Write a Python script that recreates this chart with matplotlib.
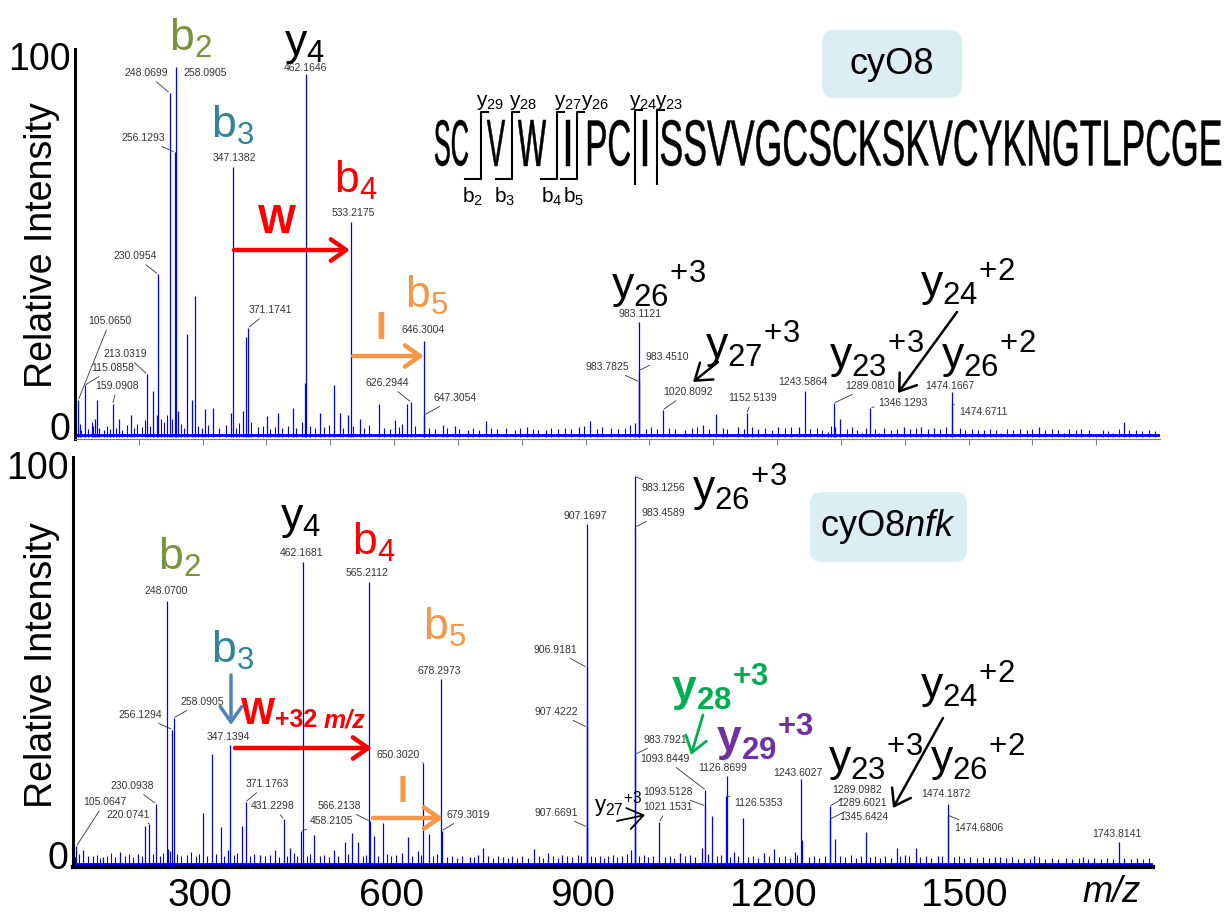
import matplotlib
matplotlib.use('Agg')
import matplotlib.pyplot as plt
from matplotlib.textpath import TextPath
from matplotlib.patches import PathPatch, FancyBboxPatch, FancyArrowPatch
from matplotlib.font_manager import FontProperties
from matplotlib.transforms import Affine2D, ScaledTranslation
from matplotlib.lines import Line2D

plt.rcParams['font.family'] = ['Liberation Sans', 'DejaVu Sans']
plt.rcParams['mathtext.fontset'] = 'custom'
plt.rcParams['mathtext.rm'] = 'Liberation Sans'
plt.rcParams['mathtext.it'] = 'Liberation Sans:italic'
plt.rcParams['mathtext.bf'] = 'Liberation Sans:bold'

# ---------------- data: cyO8 (top) ----------------
top_mz = [105.0650, 115.0858, 159.0908, 213.0319, 230.0954, 248.0699, 256.1293,
          258.0905, 347.1382, 371.1741, 462.1646, 533.2175, 626.2944, 646.3004,
          647.3054, 983.1121, 983.4510, 983.7825, 1020.8092, 1152.5139, 1243.5864,
          1289.0810, 1346.1293, 1474.1667, 1474.6711]
top_int = [10, 14, 9, 17, 44, 93, 77, 100, 73, 29.5, 98, 58, 9.5, 26, 6, 31, 18, 15,
           7.3, 6.5, 12.4, 9.2, 8, 12.2, 9]

top_minor_mz = [131, 134.5, 169, 188, 222, 228.5, 261.5, 275.5, 283, 288, 304, 316,
                344.5, 363, 367.5, 401, 418, 442, 460.5, 484, 506, 515, 528, 547,
                576.5, 601.5, 620, 677, 695.6, 716, 744, 808, 838, 890, 907, 978,
                1056, 1084, 1105, 1139, 1202, 1235, 1280, 1291, 1299, 1333.5, 1359,
                1399, 1426, 1525, 1551, 1611, 1649, 1700, 1727, 1744]
top_minor_int = [5, 10, 5, 6, 12.4, 6, 7, 28, 10, 38, 7.5, 8, 6.5, 7, 27, 5.7, 6.5, 8,
                 14.6, 6.5, 14, 6.5, 6, 5, 9, 4.6, 9, 3.2, 3, 2, 4.3, 2.7, 2, 2.7, 4.3,
                 3.8, 2, 3.2, 6.2, 2.7, 2.7, 2.7, 1.3, 2.7, 5, 1, 1, 2.7, 2.7, 2, 1,
                 2.7, 1, 0.8, 1, 4]

top_grass = [(104, 2.5), (108, 3.5), (110, 2), (121, 2.2), (126, 4), (128, 3), (138, 2.5),
             (145, 2), (150, 3), (155, 2.2), (165, 2.6), (174, 2), (181, 3.2), (193, 2.4),
             (197, 3.5), (205, 2.8), (209, 4.5), (217, 3), (235, 5), (240, 4), (244, 6),
             (252, 5), (266, 3.5), (271, 2.6), (293, 3), (299, 2.4), (309, 3.3), (326, 2.5),
             (336, 3.2), (352, 2.4), (357, 3.8), (375, 4), (386, 2.7), (395, 3.1), (406, 2.3),
             (413, 2.8), (425, 2.5), (433, 3), (447, 2.6), (455, 4), (468, 3), (476, 2.4),
             (490, 2.8), (498, 3.4), (520, 2.6), (536, 3), (553, 2.4), (560, 3.2), (584, 2.6),
             (593, 2.2), (608, 2.8), (613, 3.5), (632, 3), (655, 2.5), (664, 2.2), (683, 2.6),
             (702, 2.2), (724, 2.4), (733, 2), (752, 2.6), (761, 2.1), (776, 2.4), (789, 2),
             (798, 2.6), (817, 2.2), (826, 1.8), (846, 2.4), (856, 2.1), (868, 2.6), (877, 2.3),
             (897, 3), (918, 2.2), (926, 2.8), (940, 2.4), (951, 2.1), (962, 2.6), (970, 3.3),
             (995, 2.3), (1003, 2.8), (1012, 2.2), (1031, 2.6), (1040, 2.2), (1066, 2.4),
             (1075, 2.8), (1094, 2.3), (1115, 2.6), (1122, 2.1), (1148, 2.2), (1160, 2.8),
             (1170, 2.1), (1181, 2.5), (1192, 2), (1213, 2.4), (1222, 2.8), (1252, 2.2),
             (1262, 2.6), (1270, 2), (1285, 3), (1310, 2.2), (1318, 2.8), (1326, 2),
             (1340, 2.4), (1353, 2.2), (1368, 2.5), (1378, 2), (1388, 2.3), (1409, 2.1),
             (1417, 2.5), (1436, 2.2), (1446, 2.6), (1455, 2.1), (1464, 2.8), (1486, 2.4),
             (1495, 2), (1505, 2.3), (1515, 2), (1534, 2.2), (1543, 1.9), (1560, 2.3),
             (1570, 2), (1580, 2.2), (1592, 1.9), (1600, 2.3), (1620, 2), (1630, 2.2),
             (1640, 1.8), (1658, 2.1), (1668, 1.9), (1677, 2.2), (1688, 1.8), (1710, 2),
             (1718, 1.7), (1735, 2.1), (1752, 1.8), (1762, 2), (1772, 1.7), (1782, 1.9),
             (1792, 1.6)]

# ---------------- data: cyO8nfk (bottom) ----------------
bot_mz = [105.0647, 220.0741, 230.0938, 248.0700, 256.1294, 258.0905, 347.1394,
          371.1763, 431.2298, 458.2105, 462.1681, 565.2112, 566.2138, 650.3020,
          678.2973, 679.3019, 906.9181, 907.1697, 907.4222, 907.6691, 983.1256,
          983.4589, 983.7921, 1021.1531, 1093.5128, 1093.8449, 1126.5353, 1126.8699,
          1243.6027, 1289.0982, 1289.6021, 1345.6424, 1474.1872, 1474.6806, 1743.8141]
bot_int = [5, 10.8, 16, 68, 35, 38, 31, 16.4, 12, 8.9, 78, 72.8, 11.5, 26.4, 48, 9,
           51, 87.7, 35.6, 10, 100, 87, 28.7, 11.3, 15.4, 19.5, 18, 23, 22.3, 15.3, 12,
           8.7, 16, 13, 6]

bot_minor_mz = [116, 131, 147, 174, 202, 213, 249, 304, 318, 332.5, 343.5, 365.5, 394,
                417, 441, 478.6, 510, 527, 538, 548, 573, 587, 617, 626.5, 642, 659,
                724, 736.5, 744, 775.5, 824, 846, 868, 948, 977, 1053.6, 1088, 1104,
                1138.5, 1152.6, 1185.6, 1201, 1234, 1245.5, 1297, 1394.6, 1407, 1424,
                1459, 1548.6, 1610, 1687]
bot_minor_int = [4, 2.6, 2.3, 3.6, 3, 10.3, 4.4, 13.6, 28.7, 10, 4, 10.3, 2.8, 4, 4.6,
                 8, 4, 6, 8.5, 6.2, 7.7, 11, 3.3, 7.4, 3.8, 8.2, 2.3, 2.8, 4.6, 2.3,
                 4.4, 3.3, 2.8, 2.8, 4.1, 3.3, 4.6, 12.8, 3.6, 12.3, 3.3, 4.4, 3.6, 6.6,
                 7, 4.6, 2.8, 4.6, 2.6, 2.3, 2.6, 2.3]

bot_grass = [(103, 2.2), (109, 3), (124, 2.4), (137, 2.8), (142, 2), (153, 2.6), (160, 3.2),
             (166, 2.2), (181, 2.5), (188, 3), (195, 2.2), (208, 2.6), (226, 3), (236, 2.4),
             (242, 3.4), (253, 3.8), (263, 3), (270, 2.4), (279, 2.8), (286, 3.5), (294, 2.6),
             (298, 3), (310, 2.4), (325, 3), (338, 2.6), (353, 2.8), (358, 3.4), (378, 2.6),
             (385, 3), (402, 2.4), (410, 2.8), (424, 2.2), (436, 2.6), (448, 3.2), (452, 2.4),
             (467, 2.6), (472, 3), (488, 2.4), (495, 2.8), (503, 2.2), (517, 2.6), (532, 3),
             (555, 2.4), (560, 2.8), (580, 2.6), (593, 3), (600, 2.4), (608, 2.8), (632, 2.4),
             (647, 2.8), (666, 2.6), (672, 3), (688, 2.2), (696, 2.6), (704, 2.1), (712, 2.5),
             (730, 2.2), (752, 2.5), (760, 2.1), (768, 2.4), (783, 2), (790, 2.5), (798, 2.1),
             (806, 2.4), (815, 2), (832, 2.6), (838, 2.1), (855, 2.4), (862, 2), (876, 2.6),
             (884, 2.2), (893, 2.8), (899, 2.4), (914, 2.6), (920, 2.2), (928, 2.5), (935, 2),
             (941, 2.6), (955, 2.2), (962, 2.5), (970, 3), (990, 2.4), (997, 2.8), (1004, 2.2),
             (1011, 2.6), (1030, 2.2), (1038, 2.6), (1045, 2.1), (1062, 2.4), (1070, 2.8),
             (1078, 2.2), (1098, 3), (1112, 2.4), (1118, 2.8), (1132, 2.2), (1145, 2.6),
             (1160, 2.2), (1168, 2.6), (1176, 2), (1193, 2.4), (1210, 2.2), (1218, 2.6),
             (1226, 2), (1238, 2.8), (1256, 2.2), (1264, 2.6), (1272, 2), (1281, 2.4),
             (1305, 2.6), (1313, 2.2), (1322, 2.8), (1330, 2), (1338, 2.4), (1352, 2.2),
             (1360, 2.6), (1368, 2), (1376, 2.4), (1385, 2.1), (1400, 2.4), (1414, 2.6),
             (1431, 2.2), (1440, 2.6), (1448, 2.1), (1466, 2.4), (1484, 2.2), (1492, 2.6),
             (1500, 2), (1510, 2.3), (1520, 2), (1530, 2.2), (1540, 1.9), (1556, 2.2),
             (1566, 1.9), (1575, 2.2), (1585, 1.8), (1595, 2.1), (1604, 1.8), (1618, 2.2),
             (1628, 1.8), (1638, 2), (1648, 1.8), (1660, 2.1), (1670, 1.8), (1680, 2),
             (1695, 1.8), (1705, 2.1), (1715, 1.8), (1725, 2), (1734, 1.8), (1752, 2),
             (1762, 1.7), (1772, 2), (1782, 1.7), (1790, 1.9)]

x_ticks = [300, 600, 900, 1200, 1500]
sequence_parts = ['SC', 'V', 'W', 'I', 'PC', 'I', 'SSVVGCSCKSKVCYKNGTLPCGE']

# ---------------- layout (pixel positions in the 1226x915 picture) ----------------
W, H = 1226, 915
top_label_pos = {
    '105.0650': (110, 321, True), '115.0858': (113, 368, True), '159.0908': (117, 386, True),
    '213.0319': (125, 354, True), '230.0954': (135, 256, True), '248.0699': (146, 73, True),
    '256.1293': (143, 138, True), '258.0905': (205, 73, False), '347.1382': (234, 158, False),
    '371.1741': (270, 310, True), '462.1646': (305, 68, False), '533.2175': (353, 213, False),
    '626.2944': (387, 383, True), '646.3004': (423, 330, False), '647.3054': (455, 398, True),
    '983.1121': (640, 314, False), '983.4510': (667, 357, True), '983.7825': (607, 367, True),
    '1020.8092': (688, 392, True), '1152.5139': (753, 398, True), '1243.5864': (803, 382, False),
    '1289.0810': (870, 386, True), '1346.1293': (903, 403, True), '1474.1667': (950, 386, False),
    '1474.6711': (983, 412, True)}
bot_label_pos = {
    '105.0647': (105, 802, True), '220.0741': (128, 815, True), '230.0938': (132, 786, True),
    '248.0700': (166, 591, False), '256.1294': (140, 715, True), '258.0905': (202, 702, True),
    '347.1394': (228, 737, False), '371.1763': (267, 784, True), '431.2298': (273, 806, True),
    '458.2105': (331, 821, True), '462.1681': (302, 553, False), '565.2112': (367, 573, False),
    '566.2138': (339, 806, True), '650.3020': (398, 755, True), '678.2973': (439, 671, False),
    '679.3019': (468, 815, True), '906.9181': (555, 650, True), '907.1697': (585, 516, False),
    '907.4222': (556, 712, True), '907.6691': (556, 813, True), '983.1256': (663, 488, True),
    '983.4589': (663, 513, True), '983.7921': (665, 740, True), '1021.1531': (668, 807, True),
    '1093.5128': (668, 792, True), '1093.8449': (665, 759, True), '1126.5353': (758, 803, True),
    '1126.8699': (723, 768, False), '1243.6027': (798, 773, False), '1289.0982': (857, 790, True),
    '1289.6021': (862, 803, True), '1345.6424': (864, 817, False), '1474.1872': (946, 794, False),
    '1474.6806': (979, 828, True), '1743.8141': (1117, 834, False)}

C_B2, C_B3, C_RED, C_OR = '#77933c', '#31849b', '#ff0000', '#f79646'
C_GRN, C_PUR, C_STEEL = '#00b050', '#7030a0', '#4f81bd'
BLUE = '#0000ff'

fig = plt.figure(figsize=(W / 100, H / 100), dpi=100)
# pixel coordinates measured from the top-left corner
PXT = Affine2D().scale(1, -1).translate(0, H).scale(1 / 100.0) + fig.dpi_scale_trans


def axes_rect(left, top, right, bottom):
    return [left / W, 1 - bottom / H, (right - left) / W, (bottom - top) / H]


ax1 = fig.add_axes(axes_rect(75, 48.5, 1160, 439))
ax2 = fig.add_axes(axes_rect(73, 457, 1153, 867))


def draw_panel(ax, mz, inten, minor_mz, minor_int, grass, label_pos, ymin):
    gx = [g[0] for g in grass]
    gy = [g[1] for g in grass]
    ax.axhline(0.5, color=BLUE, lw=2.0, zorder=2)
    ax.vlines(gx, 0, gy, colors=BLUE, lw=0.8, zorder=3)
    ax.vlines(minor_mz, 0, minor_int, colors=BLUE, lw=0.9, zorder=3)
    ax.vlines(mz, 0, inten, colors=BLUE, lw=0.9, zorder=3)
    for m, h in zip(mz, inten):
        lbl = '%.4f' % m
        tx, ty, lead = label_pos[lbl]
        props = None
        if lead:
            props = dict(arrowstyle='-', lw=0.6, color='#333333', shrinkA=1, shrinkB=1)
        ax.annotate(lbl, xy=(m, h), xycoords='data', xytext=(tx, ty), textcoords=PXT,
                    ha='center', va='center', fontsize=7.5, color='#333333',
                    arrowprops=props, annotation_clip=False, zorder=5)
    ax.set_xlim(100, 1800)
    ax.set_ylim(ymin, 105)
    ax.spines['top'].set_visible(False)
    ax.spines['right'].set_visible(False)
    ax.spines['left'].set_linewidth(2.2)
    ax.set_yticks([0, 100])
    ax.set_yticklabels(['0', '100'])
    ax.tick_params(axis='y', length=0, labelsize=27, pad=3)
    for t in ax.get_yticklabels():
        t.set_transform(t.get_transform() + ScaledTranslation(0, 0.11, fig.dpi_scale_trans))


draw_panel(ax1, top_mz, top_int, top_minor_mz, top_minor_int, top_grass, top_label_pos, -0.5)
draw_panel(ax2, bot_mz, bot_int, bot_minor_mz, bot_minor_int, bot_grass, bot_label_pos, -0.3)

ax1.set_xlim(100, 1800)
ax1.spines['bottom'].set_color('#808080')
ax1.spines['bottom'].set_linewidth(0.8)
ax1.set_xticks(range(200, 1800, 100))
ax1.tick_params(axis='x', direction='out', length=4, width=0.8, color='#808080',
                labelbottom=False)

ax2.set_xlim(100, 1797)
ax2.spines['bottom'].set_linewidth(3)
ax2.set_xticks(x_ticks)
ax2.tick_params(axis='x', length=0, labelsize=28, pad=8)

# axis titles
for yc in (245, 665):
    fig.text(42, yc, 'Relative Intensity', transform=PXT, rotation=90, fontsize=27,
             ha='center', va='center')
fig.text(1112, 893, 'm/z', transform=PXT, fontsize=26, style='italic',
         ha='center', va='center')

# ion labels
big = 32
ion_labels = [
    (r'$\mathrm{b_2}$', 190, 38, C_B2, big), (r'$\mathrm{y_4}$', 305, 45, 'black', big),
    (r'$\mathrm{b_3}$', 233, 125, C_B3, big), (r'$\mathrm{b_4}$', 356, 180, C_RED, big),
    (r'$\mathrm{b_5}$', 427, 295, C_OR, big),
    (r'$\mathrm{y_{26}{}^{+3}}$', 659, 285, 'black', big),
    (r'$\mathrm{y_{27}{}^{+3}}$', 753, 345, 'black', big),
    (r'$\mathrm{y_{24}{}^{+2}}$', 967, 283, 'black', big),
    (r'$\mathrm{y_{23}{}^{+3}}$', 877, 355, 'black', big),
    (r'$\mathrm{y_{26}{}^{+2}}$', 988, 355, 'black', big),
    (r'$\mathrm{b_2}$', 179, 557, C_B2, big), (r'$\mathrm{y_4}$', 301, 520, 'black', big),
    (r'$\mathrm{b_4}$', 374, 542, C_RED, big), (r'$\mathrm{b_3}$', 233, 650, C_B3, big),
    (r'$\mathrm{b_5}$', 445, 627, C_OR, big),
    (r'$\mathrm{y_{26}{}^{+3}}$', 740, 488, 'black', big),
    (r'$\mathbf{y_{28}{}^{+3}}$', 720, 688, C_GRN, big),
    (r'$\mathbf{y_{29}{}^{+3}}$', 765, 738, C_PUR, big),
    (r'$\mathrm{y_{27}{}^{+3}}$', 618, 805, 'black', 16),
    (r'$\mathrm{y_{23}{}^{+3}}$', 876, 758, 'black', big),
    (r'$\mathrm{y_{24}{}^{+2}}$', 967, 685, 'black', big),
    (r'$\mathrm{y_{26}{}^{+2}}$', 977, 758, 'black', big),
]
for s, x, y, c, fs in ion_labels:
    fig.text(x, y, s, transform=PXT, color=c, fontsize=fs, ha='center', va='center', zorder=6)

fig.text(277, 222, 'W', transform=PXT, color=C_RED, fontsize=29, weight='bold',
         ha='center', va='center')
fig.text(381, 329, 'I', transform=PXT, color=C_OR, fontsize=28, weight='bold',
         ha='center', va='center')
fig.text(258, 715, 'W', transform=PXT, color=C_RED, fontsize=26, weight='bold',
         ha='center', va='center')
fig.text(275, 727, '+32', transform=PXT, color=C_RED, fontsize=18, weight='bold',
         ha='left', va='baseline')
fig.text(324, 727, 'm/z', transform=PXT, color=C_RED, fontsize=18, weight='bold',
         style='italic', ha='left', va='baseline')
fig.text(403, 792, 'I', transform=PXT, color=C_OR, fontsize=26, weight='bold',
         ha='center', va='center')

# arrows
arrows = [
    ((234, 250), (350, 250), C_RED, 3.2), ((353, 356), (424, 356), C_OR, 3.2),
    ((718, 362), (693, 382), 'black', 1.8), ((957, 312), (898, 393), 'black', 1.8),
    ((231, 675), (231, 725), C_STEEL, 2.5), ((235, 748), (372, 748), C_RED, 3.2),
    ((373, 818), (443, 818), C_OR, 3.2), ((703, 715), (691, 755), C_GRN, 2.0),
    ((617, 821), (645, 815), 'black', 1.3), ((943, 718), (893, 808), 'black', 1.8),
]
for p0, p1, c, lw in arrows:
    fig.add_artist(FancyArrowPatch(p0, p1, transform=PXT,
                                   arrowstyle='->,head_length=0.5,head_width=0.35',
                                   mutation_scale=22, lw=lw, color=c,
                                   shrinkA=0, shrinkB=0, zorder=6))

# sample boxes
for (bx0, by0, bx1, by1), name, tx in [((822, 30, 962, 98), 'cyO8', 892),
                                       ((810, 492, 967, 562), r'cyO8$\mathit{nfk}$', 888)]:
    fig.add_artist(FancyBboxPatch((bx0, by0), bx1 - bx0, by1 - by0,
                                  boxstyle='round,pad=0,rounding_size=12',
                                  transform=PXT, facecolor='#dbeef4', edgecolor='none'))
    fig.text(tx, (by0 + by1) / 2, name, transform=PXT, fontsize=26, ha='center', va='center')

# peptide sequence, each segment squeezed into its span
seg_spans = [(435, 468), (487, 505), (518, 546), (566, 570), (588, 630), (643, 647), (661, 1221)]
seq_font = FontProperties(family='Liberation Sans')
for part, (x0, x1) in zip(sequence_parts, seg_spans):
    tp = TextPath((0, 0), part, size=100, prop=seq_font)
    ext = tp.get_extents()
    sx = (x1 - x0) / ext.width
    sy = (166 - 120) / ext.height
    tr = Affine2D().translate(-ext.x0, -ext.y0).scale(sx, -sy).translate(x0, 166) + PXT
    fig.add_artist(PathPatch(tp, transform=tr, facecolor='black', edgecolor='black', lw=0.35))

# fragmentation brackets
for xv in (481, 512, 557, 577):
    fig.add_artist(Line2D([xv - 16, xv, xv, xv + 7], [179, 179, 112, 112], transform=PXT,
                          color='black', lw=1.5))
for xv in (635, 657):
    fig.add_artist(Line2D([xv, xv, xv + 7], [184, 110, 110], transform=PXT,
                          color='black', lw=1.5))
for s, x in [('29', 490), ('28', 523), ('27', 568), ('26', 595), ('24', 643), ('23', 669)]:
    fig.text(x, 102, r'$\mathrm{y_{%s}}$' % s, transform=PXT, fontsize=15,
             ha='center', va='center')
for s, x in [('2', 473), ('3', 505), ('4', 552), ('5', 574)]:
    fig.text(x, 197, r'$\mathrm{b_{%s}}$' % s, transform=PXT, fontsize=15,
             ha='center', va='center')

fig.savefig('out.png', dpi=100)
